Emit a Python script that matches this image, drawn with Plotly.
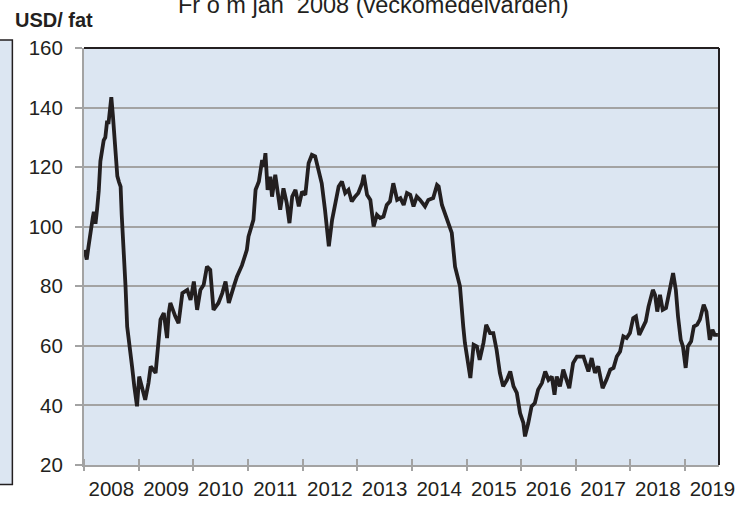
import plotly.graph_objects as go

# Weekly Brent price (USD per barrel); x in decimal years
time_dec = [
    2008.01, 2008.05, 2008.08, 2008.12, 2008.16, 2008.18, 2008.21, 2008.24, 2008.27, 2008.30,
    2008.34, 2008.36, 2008.39, 2008.42, 2008.45, 2008.50, 2008.53, 2008.57, 2008.61, 2008.64,
    2008.67, 2008.69, 2008.73, 2008.76, 2008.79, 2008.85, 2008.88, 2008.92, 2008.97, 2009.01,
    2009.06, 2009.12, 2009.18, 2009.22, 2009.31, 2009.34, 2009.40, 2009.46, 2009.52, 2009.55,
    2009.58, 2009.67, 2009.73, 2009.80, 2009.89, 2009.95, 2010.01, 2010.07, 2010.13, 2010.19,
    2010.25, 2010.31, 2010.37, 2010.46, 2010.53, 2010.59, 2010.65, 2010.74, 2010.80, 2010.89,
    2010.93, 2010.98, 2011.01, 2011.10, 2011.14, 2011.20, 2011.26, 2011.29, 2011.32, 2011.36,
    2011.41, 2011.44, 2011.50, 2011.56, 2011.59, 2011.65, 2011.71, 2011.76, 2011.81, 2011.87,
    2011.93, 2011.99, 2012.05, 2012.11, 2012.17, 2012.23, 2012.29, 2012.35, 2012.41, 2012.48,
    2012.54, 2012.60, 2012.66, 2012.72, 2012.78, 2012.84, 2012.90, 2012.96, 2013.02, 2013.09,
    2013.12, 2013.18, 2013.24, 2013.30, 2013.36, 2013.42, 2013.48, 2013.54, 2013.60, 2013.66,
    2013.73, 2013.79, 2013.85, 2013.91, 2013.97, 2014.03, 2014.09, 2014.15, 2014.24, 2014.30,
    2014.39, 2014.46, 2014.49, 2014.55, 2014.64, 2014.73, 2014.79, 2014.88, 2014.94, 2014.97,
    2015.07, 2015.13, 2015.19, 2015.24, 2015.31, 2015.36, 2015.43, 2015.49, 2015.55, 2015.61,
    2015.67, 2015.74, 2015.80, 2015.86, 2015.92, 2015.98, 2016.04, 2016.07, 2016.13, 2016.19,
    2016.25, 2016.31, 2016.38, 2016.44, 2016.50, 2016.56, 2016.61, 2016.65, 2016.71, 2016.77,
    2016.83, 2016.88, 2016.95, 2017.02, 2017.14, 2017.23, 2017.29, 2017.35, 2017.41, 2017.49,
    2017.56, 2017.63, 2017.69, 2017.75, 2017.81, 2017.87, 2017.93, 2017.99, 2018.05, 2018.10,
    2018.16, 2018.22, 2018.28, 2018.33, 2018.41, 2018.45, 2018.49, 2018.54, 2018.59, 2018.65,
    2018.69, 2018.73, 2018.78, 2018.83, 2018.87, 2018.92, 2018.96, 2019.01, 2019.05, 2019.11,
    2019.16, 2019.22, 2019.27, 2019.34, 2019.39, 2019.45, 2019.50, 2019.54, 2019.60,
]

brent_usd = [
    92.2, 89.0, 93.0, 99.0, 103.0, 105.0, 101.0, 106.0, 112.0, 122.0,
    127.0, 129.0, 130.0, 135.0, 135.0, 143.5, 137.0, 125.0, 117.0, 115.0,
    113.5, 104.0, 92.0, 80.0, 66.5, 58.7, 53.0, 46.4, 39.7, 49.7,
    46.4, 41.9, 47.5, 53.1, 50.9, 57.6, 68.8, 71.0, 62.6, 71.0,
    74.4, 69.9, 67.6, 77.7, 78.8, 75.4, 81.6, 72.1, 78.8, 80.5,
    86.6, 85.5, 72.1, 74.4, 77.7, 81.6, 74.4, 79.9, 83.3, 87.0,
    89.5, 92.2, 96.7, 102.3, 112.4, 115.2, 122.4, 120.2, 124.7, 112.4,
    116.8, 110.1, 117.4, 110.1, 105.7, 112.9, 107.9, 101.2, 110.1, 112.4,
    106.8, 111.8, 110.7, 121.3, 124.1, 123.6, 119.1, 114.6, 105.7, 93.4,
    102.3, 107.9, 113.5, 115.2, 111.3, 112.4, 108.5, 110.1, 111.3, 114.6,
    117.4, 110.7, 109.0, 100.1, 104.0, 102.9, 103.4, 107.3, 108.5, 114.6,
    109.0, 109.6, 107.3, 111.3, 110.7, 106.8, 110.1, 109.0, 106.8, 109.0,
    109.6, 114.0, 113.5, 107.3, 102.3, 97.9, 86.6, 80.0, 66.5, 61.0,
    49.2, 60.4, 59.8, 55.3, 61.0, 67.1, 64.3, 64.3, 58.7, 50.9,
    46.4, 48.6, 51.4, 46.4, 44.2, 37.4, 34.1, 29.6, 34.1, 39.7,
    40.8, 45.3, 47.5, 51.4, 48.6, 49.7, 43.6, 49.7, 46.4, 52.0,
    48.6, 45.8, 54.2, 56.4, 56.4, 51.4, 55.9, 50.9, 53.1, 45.8,
    48.6, 52.0, 52.6, 56.4, 58.1, 63.2, 62.6, 64.3, 69.3, 69.9,
    63.7, 66.0, 68.2, 73.2, 78.8, 77.1, 71.5, 77.1, 72.1, 72.7,
    77.1, 79.9, 84.4, 78.8, 69.9, 62.0, 59.8, 52.6, 59.8, 61.5,
    66.5, 67.1, 68.8, 73.8, 71.5, 62.0, 65.4, 63.7, 63.7,
]

year_ticks = [2008, 2009, 2010, 2011, 2012, 2013, 2014, 2015, 2016, 2017, 2018, 2019]
year_labels = [str(y) for y in year_ticks]
y_ticks = [20, 40, 60, 80, 100, 120, 140, 160]

FONT = "Liberation Sans, Arial, sans-serif"
TXT = "#231F20"
GRID = "#A3A3A3"
BG = "#DCE6F2"

fig = go.Figure()
fig.add_trace(go.Scatter(
    x=time_dec, y=brent_usd, mode="lines",
    line=dict(color="#231F20", width=3.8),
    hoverinfo="skip", showlegend=False,
))
# invisible trace to activate the overlay axis used for outward tick marks
fig.add_trace(go.Scatter(x=[2008, 2019.62], y=[None, None], xaxis="x2", yaxis="y",
                         mode="lines", showlegend=False, hoverinfo="skip"))

fig.update_layout(
    width=751, height=505,
    margin=dict(l=84, r=32, t=48, b=40, autoexpand=False),
    paper_bgcolor="white",
    plot_bgcolor=BG,
    font=dict(family=FONT, size=20, color=TXT),
    xaxis=dict(
        range=[2008, 2019.62], automargin=False,
        tickvals=[y + 0.5 for y in year_ticks],
        ticktext=year_labels,
        ticks="", showgrid=False, zeroline=False,
        showline=True, linecolor=GRID, linewidth=2,
        tickfont=dict(family=FONT, size=20.5, color=TXT),
        minor=dict(tickvals=year_ticks, ticks="inside", ticklen=6,
                   tickwidth=1.5, tickcolor=GRID, showgrid=False),
        ticklabelstandoff=4,
    ),
    xaxis2=dict(
        overlaying="x", matches="x", range=[2008, 2019.62], automargin=False,
        tickvals=year_ticks, ticks="outside", ticklen=5, tickwidth=1.5,
        tickcolor=GRID, showticklabels=False, showgrid=False,
        showline=False, zeroline=False,
    ),
    yaxis=dict(
        range=[20, 160], tickvals=y_ticks, automargin=False,
        ticks="outside", ticklen=7, tickwidth=1.5, tickcolor=GRID,
        showgrid=True, gridcolor=GRID, gridwidth=2,
        showline=True, linecolor=GRID, linewidth=2, zeroline=False,
        tickfont=dict(family=FONT, size=20.5, color=TXT),
        ticklabelstandoff=8,
    ),
    shapes=[
        # dark top and right frame of the plot area
        dict(type="line", xref="paper", yref="paper", x0=0, x1=1, y0=1, y1=1,
             line=dict(color="#231F20", width=2)),
        dict(type="line", xref="paper", yref="paper", x0=1, x1=1, y0=0, y1=1,
             line=dict(color="#231F20", width=2)),
        # edge of the neighbouring chart panel
        dict(type="rect", xref="paper", yref="paper", x0=-0.25, x1=-0.1128,
             y0=-0.047, y1=1.019, fillcolor=BG, line=dict(color="#231F20", width=1.5),
             layer="below"),
    ],
    annotations=[
        dict(text="<b>USD/ fat</b>", xref="paper", yref="paper",
             x=-0.048, y=1.067, xanchor="center", yanchor="middle",
             showarrow=False, font=dict(family=FONT, size=20, color=TXT)),
        dict(text="Fr o m jan\u00a0\u00a02008 (veckomedelvärden)", xref="paper", yref="paper",
             x=0.456, y=1.1035, xanchor="center", yanchor="middle",
             showarrow=False, font=dict(family=FONT, size=23.5, color=TXT)),
    ],
)

fig.write_html("out.html", config={"displayModeBar": False},
               post_script="document.body.style.margin='0px';")
